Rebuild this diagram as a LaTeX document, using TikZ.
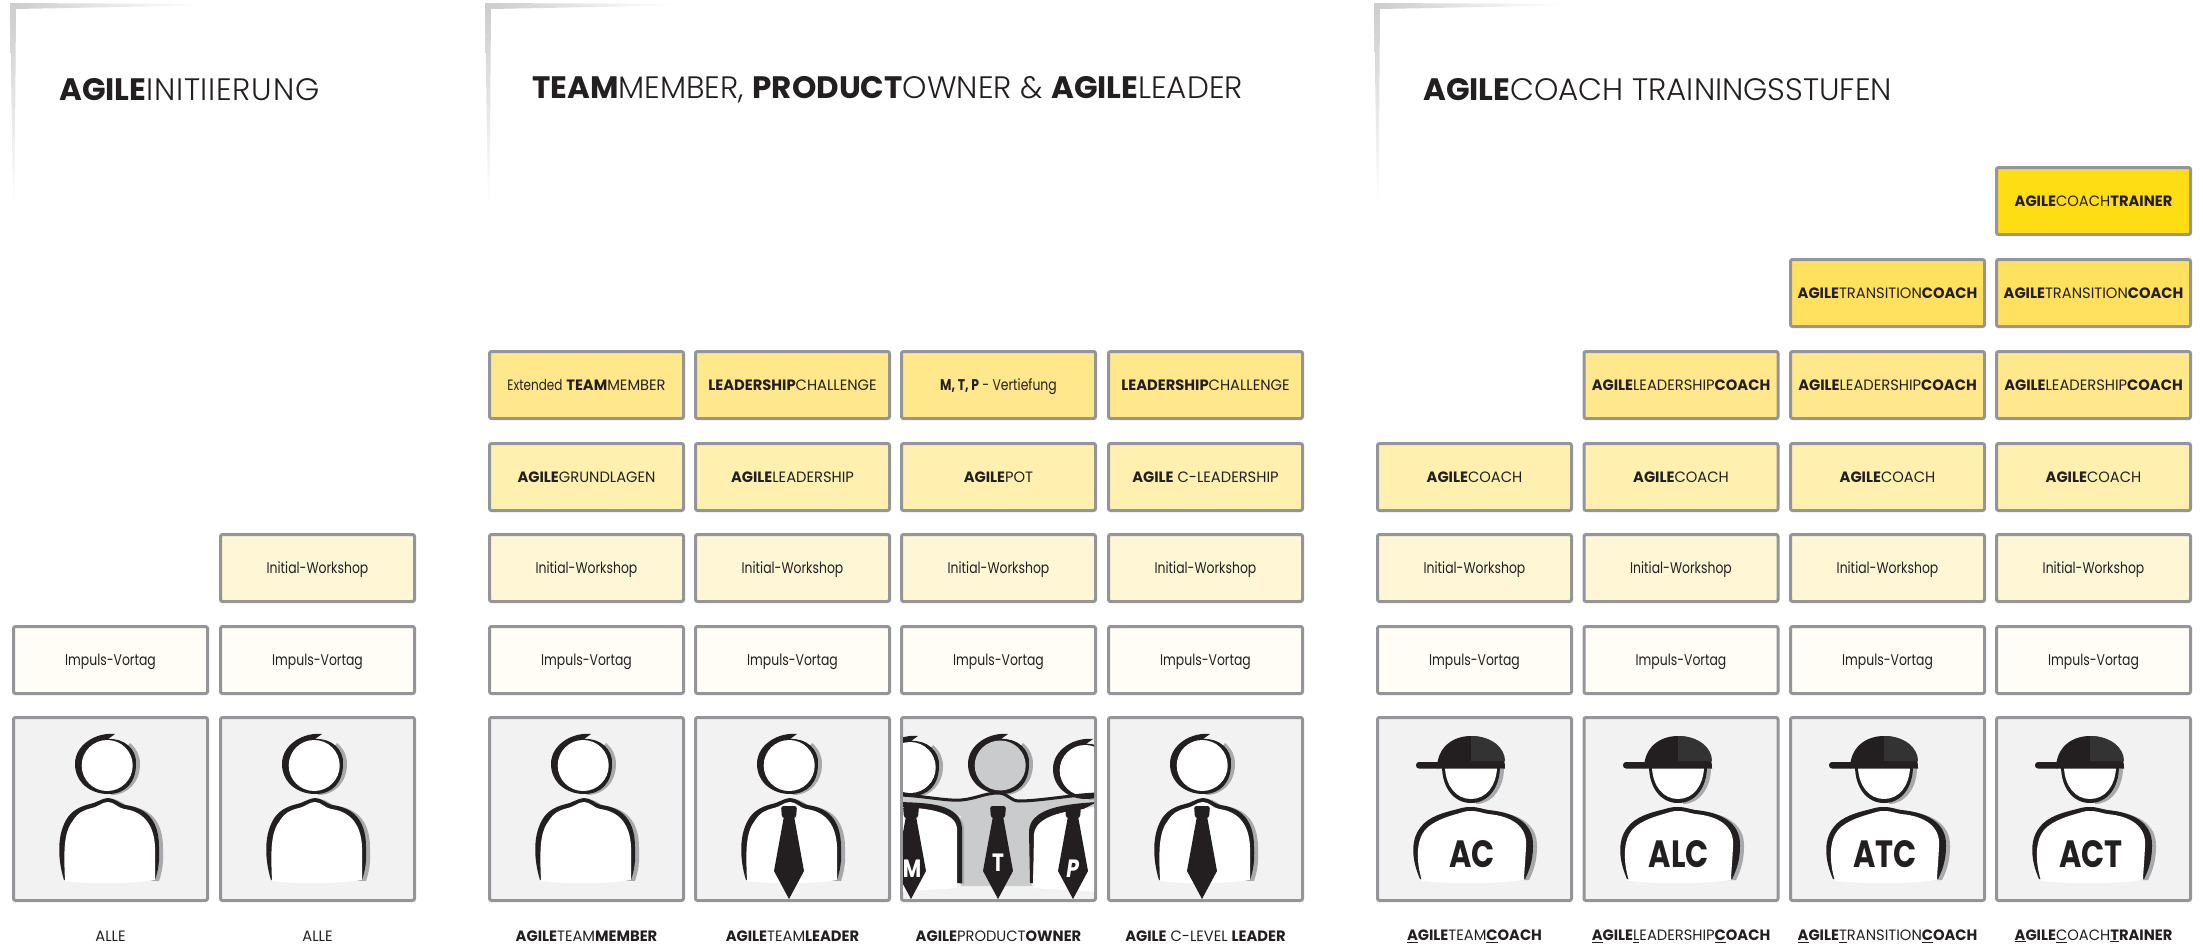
\documentclass[tikz,border=0pt]{standalone}
\usepackage{fontspec}
\setmainfont{Poppins}[BoldFont=* Bold,FakeStretch=0.98]
\newfontfamily\lowf{Poppins}[BoldFont=* Bold,FakeStretch=0.8]
\newfontfamily\titlef{Poppins}[UprightFont=* Light,BoldFont=* Bold,FakeStretch=1.0]
\usetikzlibrary{shadings}
\definecolor{frameg}{HTML}{939598}
\definecolor{shadowg}{HTML}{A7A9AC}
\definecolor{bgg}{HTML}{F2F2F2}
\definecolor{ink}{HTML}{231F20}
\definecolor{crA}{HTML}{FFDD15}
\definecolor{crB}{HTML}{FFE15F}
\definecolor{crC}{HTML}{FFE78C}
\definecolor{crD}{HTML}{FFF0B0}
\definecolor{crE}{HTML}{FFF6D6}
\definecolor{crF}{HTML}{FFFDF5}
\definecolor{poG}{HTML}{C9CBCD}
\newcommand\bb[1]{\textbf{#1}}
\newcommand\ub[1]{\underline{\textbf{#1}}}
\newcommand\ul[1]{\underline{#1}}
\newcommand\bx[5]{\node[cardbox,fill=#4] (#1) at (#2,#3) {#5};}
\newcommand\lx[5]{\node[lowbox,fill=#4] (#1) at (#2,#3) {#5};}
\newcommand\headshape{
  \fill[shadowg] (118,27) .. controls (125,33) and (128,40) .. (128,48) .. controls (128,66) and (116,79) .. (99,79) -- (96,60) -- cycle;
  \fill[ink] (103,18) .. controls (85,16) and (63,28) .. (63,48) .. controls (63,66) and (78,78) .. (96,78) .. controls (114,78) and (124,66) .. (124,48) .. controls (125,33) and (112,22) .. (96,23) -- cycle;
}
\newcommand\bodyplain{
  \fill[shadowg] (56,164) .. controls (50,145) and (48,118) .. (60,102) .. controls (66,94) and (74,91) .. (82,89) .. controls (88,88) and (92,84) .. (100,83) .. controls (107,83) and (110,88) .. (117,90) .. controls (134,92) and (151,101) .. (151,132) .. controls (152,146) and (150,156) .. (147,165) -- cycle;
  \fill[ink] (52,164) .. controls (46,145) and (44,118) .. (56,101) .. controls (62,93) and (70,90) .. (78,88) .. controls (84,87) and (88,83) .. (96,82) .. controls (103,82) and (106,87) .. (113,89) .. controls (130,91) and (147,100) .. (147,131) .. controls (148,145) and (146,155) .. (143,164) -- cycle;
  \fill[white] (53,165) .. controls (52,140) and (51,118) .. (60,106) .. controls (66,96) and (72,94) .. (80,92) .. controls (86,91) and (90,86) .. (96,86) .. controls (102,86) and (106,92) .. (112,93) .. controls (128,95) and (142,105) .. (143,131) -- (143,164) .. controls (120,168) and (75,168) .. (53,165) -- cycle;
}
\tikzset{
  cardbox/.style={draw=frameg,line width=3pt,rounded corners=2pt,minimum width=194pt,minimum height=67pt,inner sep=0pt,outer sep=0pt,text=ink,text height=12pt,text depth=1pt,font=\fontsize{15}{18}\selectfont},
  lowbox/.style={cardbox,font=\lowf\fontsize{15.5}{18}\selectfont},
  imgbox/.style={cardbox,fill=bgg,minimum height=183pt,text height=,text depth=},
  caption/.style={text=ink,inner sep=0pt,font=\fontsize{15}{18}\selectfont},
  headline/.style={text=ink,inner sep=0pt,anchor=west,font=\titlef\fontsize{31}{36}\selectfont},
  badge/.style={text=ink,inner sep=0pt,font=\lowf\fontsize{38}{38}\selectfont\bfseries},
  tiepic/.pic={
    \fill[ink,rounded corners=2.5pt] (-8,90) -- (8,90) -- (7,102) -- (-7,102) -- cycle;
    \fill[ink] (-5,100) -- (5,100) -- (15,155) -- (0,183) -- (-15,155) -- cycle;
  },
  plainperson/.pic={
    \headshape
    \fill[white] (95.2,49.5) ellipse [x radius=25.5,y radius=25.5];
    \bodyplain
  },
  tieperson/.pic={
    \headshape
    \fill[white] (95.2,49.5) ellipse [x radius=25.5,y radius=25.5];
    \bodyplain
    \pic at (95,0) {tiepic};
  },
  coachperson/.pic={
    \fill[shadowg] (100,60) -- (128,52) .. controls (128,72) and (116,88) .. (100,88) -- cycle;
    \fill[ink] (66,50) .. controls (66,72) and (78,87) .. (95,87) .. controls (112,87) and (124,72) .. (124,50) -- cycle;
    \fill[white] (69,52) .. controls (70,70) and (80,83) .. (95,83) .. controls (110,83) and (120,70) .. (121,52) -- cycle;
    \fill[ink,rounded corners=3pt] (40,46) -- (64,46) -- (64,52.5) -- (40,52.5) -- cycle;
    \fill[ink] (91,20) arc [start angle=180,end angle=0,radius=4] -- cycle;
    \fill[ink] (61,52.5) .. controls (61,32) and (76,20) .. (95,20) .. controls (116,20) and (129,34) .. (129,52.5) -- cycle;
    \fill[black!80] (95,20) .. controls (116,20) and (129,32) .. (129,45) -- (95,45) -- cycle;
    \fill[shadowg] (48,165) .. controls (40,145) and (38,125) .. (48,113) .. controls (56,101) and (74,97) .. (86,94) .. controls (92,92) and (96,92) .. (100,92) .. controls (106,92) and (110,94) .. (116,95) .. controls (139,97) and (162,106) .. (161,131) .. controls (161,146) and (157,156) .. (153,164) -- cycle;
    \fill[ink] (44,163) .. controls (36,145) and (34,125) .. (44,112) .. controls (52,100) and (70,96) .. (82,93) .. controls (88,91) and (92,91) .. (96,91) .. controls (102,91) and (106,93) .. (112,94) .. controls (135,96) and (158,105) .. (157,130) .. controls (157,145) and (153,155) .. (149,163) -- cycle;
    \fill[white] (46,165) .. controls (40,145) and (40,125) .. (49,114) .. controls (58,104) and (74,100) .. (84,97) .. controls (90,95) and (92,95) .. (96,95) .. controls (102,95) and (106,97) .. (112,98) .. controls (135,100) and (152,110) .. (150,131) .. controls (149,150) and (148,158) .. (148,164) .. controls (120,168) and (75,168) .. (46,165) -- cycle;
  },
  poperson/.pic={
    \begin{scope}
    \clip (3,3) rectangle (194,183);
    \fill[poG] (0,79) .. controls (25,80) and (45,85) .. (61,84) .. controls (75,83) and (85,77) .. (98,77) .. controls (108,77) and (110,85) .. (119,85) .. controls (140,85) and (170,79) .. (197,78) -- (197,90) -- (135,100) -- (132,170) -- (61,170) -- (61,100) -- (0,88) -- cycle;
    \begin{scope}[shift={(5,0)}]
      \headshape
      \fill[poG] (95.2,49.5) ellipse [x radius=25.5,y radius=25];
    \end{scope}
    \begin{scope}[shift={(-85,2)}]
      \headshape
      \fill[white] (95.2,49.5) ellipse [x radius=25.5,y radius=25.5];
    \end{scope}
    \begin{scope}[shift={(90,5)}]
      \headshape
      \fill[white] (95.2,49.5) ellipse [x radius=25.5,y radius=25.5];
    \end{scope}
    \draw[ink,line width=3pt] (0,79) .. controls (25,80) and (45,85) .. (61,84) .. controls (75,83) and (85,77) .. (98,77) .. controls (108,77) and (110,85) .. (119,85) .. controls (140,85) and (170,79) .. (197,78);
    \fill[shadowg] (0,88) .. controls (30,88) and (62,90) .. (64,112) -- (64,168) -- (60,168) -- cycle;
    \fill[ink] (0,86) .. controls (30,87) and (60,88) .. (62,112) -- (62,167) -- (56,167) -- cycle;
    \fill[white] (0,91) .. controls (25,92) and (55,95) .. (57,112) -- (57,172) -- (0,176) -- cycle;
    \fill[ink] (197,86) .. controls (165,88) and (130,92) .. (129,115) -- (130,167) -- (133,167) -- (135,118) -- cycle;
    \fill[white] (197,92) .. controls (165,94) and (136,100) .. (134,118) -- (133,172) -- (197,176) -- cycle;
    \pic at (11,0) {tiepic};
    \pic at (98,0) {tiepic};
    \pic at (173,0) {tiepic};
    \end{scope}
    \node[text=white,inner sep=0pt,font=\lowf\fontsize{25}{25}\selectfont\bfseries] (m) at (12,153) {M};
    \node[text=white,inner sep=0pt,font=\lowf\fontsize{25}{25}\selectfont\bfseries] (t) at (98,147) {T};
    \node[text=white,inner sep=0pt,xslant=.15,font=\lowf\fontsize{25}{25}\selectfont\bfseries] (p) at (173,153) {P};
  },
  bracket/.pic={
    \shade[left color=black!20,middle color=black!19,right color=white] (0,0) -- (188,1) -- (188,2.5) -- (6,6) -- cycle;
    \shade[top color=black!20,middle color=black!19,bottom color=white] (0,0) -- (6,6) -- (4.5,202) -- (3,202) -- cycle;
  }
}
\begin{document}
\begin{tikzpicture}[x=1pt,y=-1pt]
\useasboundingbox (0,0) rectangle (2203,947);
\fill[white] (0,0) rectangle (2203,947);
\pic at (10,3) {bracket};
\pic at (485,3) {bracket};
\pic at (1374,3) {bracket};
\node[headline] (ta) at (59,90) {\bb{AGILE}{\addfontfeature{LetterSpace=2.4}INITIIERUNG}};
\node[headline] (tb) at (532,90) {\bb{TEAM}MEMBER, \bb{PRODUCT}OWNER \& \bb{AGILE}LEADER};
\node[headline] (tc) at (1423,90) {\bb{AGILE}COACH TRAININGSSTUFEN};
% columns 1, 2
\lx{a1}{110.5}{660}{crF}{Impuls-Vortag}
\lx{a2}{317.5}{660}{crF}{Impuls-Vortag}
\lx{a3}{317.5}{568}{crE}{Initial-Workshop}
% team columns
\lx{b1}{586.5}{660}{crF}{Impuls-Vortag}
\lx{b2}{586.5}{568}{crE}{Initial-Workshop}
\bx{b3}{586.5}{477}{crD}{\bb{AGILE}GRUNDLAGEN}
\bx{b4}{586.5}{385}{crC}{{\lowf Extended} \bb{TEAM}MEMBER}
\lx{c1}{792.5}{660}{crF}{Impuls-Vortag}
\lx{c2}{792.5}{568}{crE}{Initial-Workshop}
\bx{c3}{792.5}{477}{crD}{\bb{AGILE}LEADERSHIP}
\bx{c4}{792.5}{385}{crC}{\bb{LEADERSHIP}CHALLENGE}
\lx{d1}{998.5}{660}{crF}{Impuls-Vortag}
\lx{d2}{998.5}{568}{crE}{Initial-Workshop}
\bx{d3}{998.5}{477}{crD}{\bb{AGILE}POT}
\lx{d4}{998.5}{385}{crC}{\bb{M, T, P} - Vertiefung}
\lx{e1}{1205.5}{660}{crF}{Impuls-Vortag}
\lx{e2}{1205.5}{568}{crE}{Initial-Workshop}
\bx{e3}{1205.5}{477}{crD}{\bb{AGILE} C-LEADERSHIP}
\bx{e4}{1205.5}{385}{crC}{\bb{LEADERSHIP}CHALLENGE}
% coach columns
\lx{f1}{1474.5}{660}{crF}{Impuls-Vortag}
\lx{f2}{1474.5}{568}{crE}{Initial-Workshop}
\bx{f3}{1474.5}{477}{crD}{\bb{AGILE}COACH}
\lx{g1}{1681}{660}{crF}{Impuls-Vortag}
\lx{g2}{1681}{568}{crE}{Initial-Workshop}
\bx{g3}{1681}{477}{crD}{\bb{AGILE}COACH}
\bx{g4}{1681}{385}{crC}{\bb{AGILE}LEADERSHIP\bb{COACH}}
\lx{h1}{1887.5}{660}{crF}{Impuls-Vortag}
\lx{h2}{1887.5}{568}{crE}{Initial-Workshop}
\bx{h3}{1887.5}{477}{crD}{\bb{AGILE}COACH}
\bx{h4}{1887.5}{385}{crC}{\bb{AGILE}LEADERSHIP\bb{COACH}}
\bx{h5}{1887.5}{293}{crB}{\bb{AGILE}TRANSITION\bb{COACH}}
\lx{i1}{2093.5}{660}{crF}{Impuls-Vortag}
\lx{i2}{2093.5}{568}{crE}{Initial-Workshop}
\bx{i3}{2093.5}{477}{crD}{\bb{AGILE}COACH}
\bx{i4}{2093.5}{385}{crC}{\bb{AGILE}LEADERSHIP\bb{COACH}}
\bx{i5}{2093.5}{293}{crB}{\bb{AGILE}TRANSITION\bb{COACH}}
\bx{i6}{2093.5}{201}{crA}{\bb{AGILE}COACH\bb{TRAINER}}
% picture boxes
\node[imgbox] (pa) at (110.5,809) {};
\node[imgbox] (pb) at (317.5,809) {};
\node[imgbox] (pc) at (586.5,809) {};
\node[imgbox] (pd) at (792.5,809) {};
\node[imgbox] (pe) at (998.5,809) {};
\node[imgbox] (pf) at (1205.5,809) {};
\node[imgbox] (pg) at (1474.5,809) {};
\node[imgbox] (ph) at (1681,809) {};
\node[imgbox] (pi) at (1887.5,809) {};
\node[imgbox] (pj) at (2093.5,809) {};
\pic at (12,716) {plainperson};
\pic at (219,716) {plainperson};
\pic at (488,716) {plainperson};
\pic at (694,716) {tieperson};
\pic at (900,716) {poperson};
\pic at (1107,716) {tieperson};
\pic at (1376,716) {coachperson};
\pic at (1583,716) {coachperson};
\pic at (1789,716) {coachperson};
\pic at (1995,716) {coachperson};
\node[badge] (ba) at (1472,854) {AC};
\node[badge] (bb) at (1679,854) {ALC};
\node[badge] (bc) at (1885,854) {ATC};
\node[badge] (bd) at (2091,854) {ACT};
% captions
\node[caption] (la) at (110.5,936) {ALLE};
\node[caption] (lb) at (317.5,936) {ALLE};
\node[caption] (lc) at (586.5,936) {\bb{AGILE}TEAM\bb{MEMBER}};
\node[caption] (ld) at (792.5,936) {\bb{AGILE}TEAM\bb{LEADER}};
\node[caption] (le) at (998.5,936) {\bb{AGILE}PRODUCT\bb{OWNER}};
\node[caption] (lf) at (1205.5,936) {\bb{AGILE} C-LEVEL \bb{LEADER}};
\node[caption] (lg) at (1474.5,936) {\ub{A}\bb{GILE}TEAM\ub{C}\bb{OACH}};
\node[caption] (lh) at (1681,936) {\ub{A}\bb{GILE}\ul{L}EADERSHIP\ub{C}\bb{OACH}};
\node[caption] (li) at (1887.5,936) {\ub{A}\bb{GILE}\ul{T}RANSITION\ub{C}\bb{OACH}};
\node[caption] (lj) at (2093.5,936) {\ub{A}\bb{GILE}\ul{C}OACH\ub{T}\bb{RAINER}};
\end{tikzpicture}
\end{document}
